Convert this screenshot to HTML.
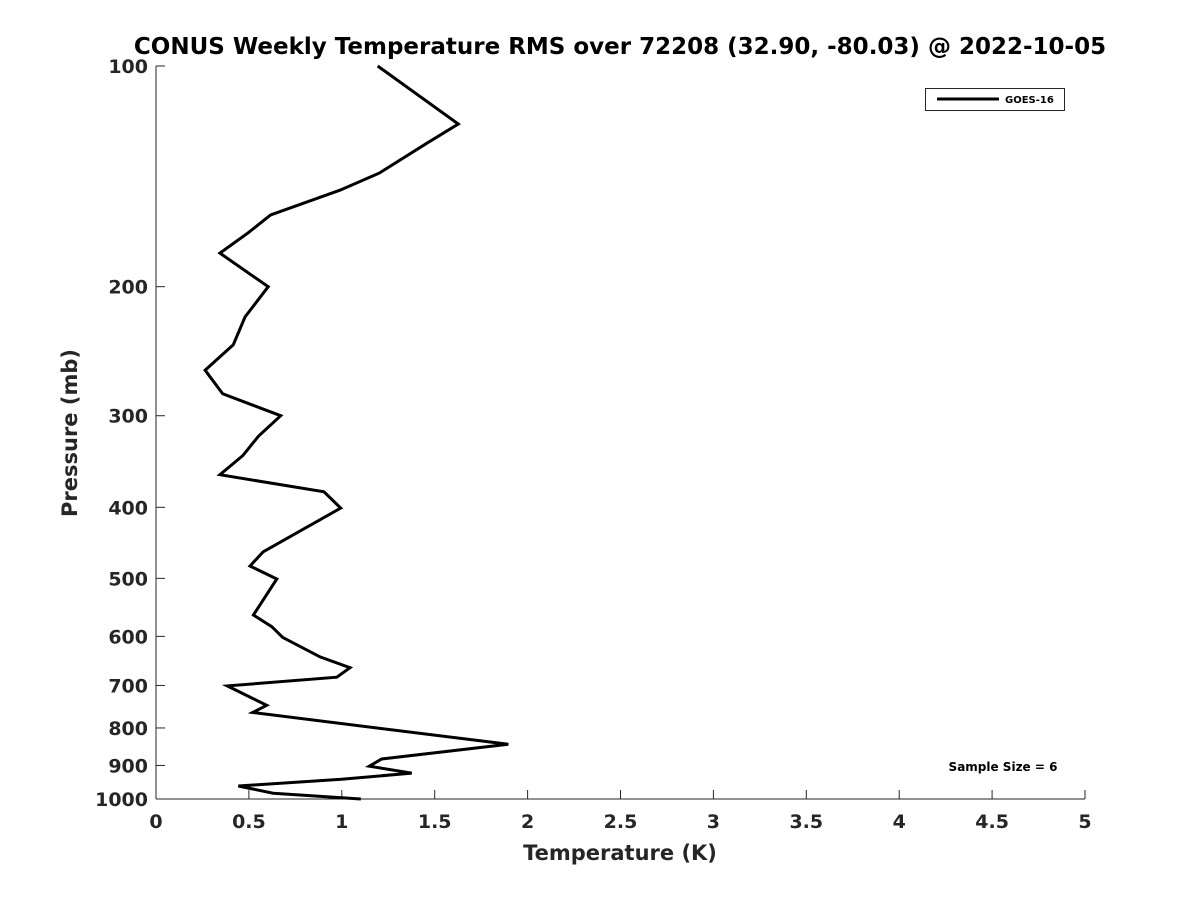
<!DOCTYPE html>
<html><head><meta charset="utf-8"><style>
body{margin:0;background:#fff}
text{font-family:"DejaVu Sans","Liberation Sans",sans-serif;font-weight:bold;fill:#262626}
</style></head><body>
<svg width="1200" height="900" viewBox="0 0 1200 900" id="chart">
<rect width="1200" height="900" fill="#fff"/>
<text x="620" y="54" text-anchor="middle" font-size="23" style="fill:#000">CONUS Weekly Temperature RMS over 72208 (32.90, -80.03) @ 2022-10-05</text>
<g id="axes"></g>
<text x="620" y="860" text-anchor="middle" font-size="21">Temperature (K)</text>
<text transform="translate(77,433) rotate(-90)" text-anchor="middle" font-size="21">Pressure (mb)</text>
<g>
<rect x="925.5" y="88.5" width="139" height="22" fill="#fff" stroke="#262626" stroke-width="1"/>
<line x1="937" y1="99" x2="999" y2="99" stroke="#000" stroke-width="3"/>
<text x="1005" y="103" font-size="10" style="fill:#000">GOES-16</text>
</g>
<text x="1003" y="771" text-anchor="middle" font-size="12" style="fill:#000">Sample Size = 6</text>
</svg>
<script>
const pressures=[100,120,127.5,140,147.7,159.7,168.8,180,200,220,240,260,280,300,320,340,361,381,401,460,481,501,561,582,602,640,662,682,701,745,762,842,882,902,922,940,960,982,1000];
const rmsValues=[1.193,1.627,1.457,1.202,0.99,0.617,0.497,0.344,0.604,0.479,0.416,0.264,0.359,0.671,0.551,0.467,0.344,0.904,0.994,0.577,0.506,0.65,0.524,0.623,0.682,0.883,1.044,0.973,0.384,0.596,0.52,1.896,1.215,1.148,1.376,0.999,0.443,0.631,1.102];
const xTicks=[0,0.5,1,1.5,2,2.5,3,3.5,4,4.5,5];
const xTickLabels=["0","0.5","1","1.5","2","2.5","3","3.5","4","4.5","5"];
const yTicks=[100,200,300,400,500,600,700,800,900,1000];
const yTickLabels=["100","200","300","400","500","600","700","800","900","1000"];
const X0=156,X1=1085,Y0=66,Y1=799;
const xs=v=>X0+(v-0)/(5-0)*(X1-X0);
const ys=p=>Y0+(Math.log10(p)-2)*(Y1-Y0);
const NS="http://www.w3.org/2000/svg";
const g=document.getElementById('axes');
function mk(t,a){const e=document.createElementNS(NS,t);for(const k in a)e.setAttribute(k,a[k]);g.appendChild(e);return e;}
let e=mk('line',{x1:X0,y1:Y0,x2:X0,y2:Y1,stroke:'#262626','stroke-width':1});


e=mk('line',{x1:X0,y1:Y1,x2:X1,y2:Y1,stroke:'#262626','stroke-width':1});


xTicks.forEach((v,i)=>{
 const x=xs(v);
 let t=mk('line',{x1:x,y1:Y1,x2:x,y2:Y1-9,stroke:'#262626'});
 
 
 let l=mk('text',{x:x,y:Y1+29,'text-anchor':'middle','font-size':19});
 l.textContent=xTickLabels[i];
 
 
});
yTicks.forEach((p,i)=>{
 const y=ys(p);
 let t=mk('line',{x1:X0,y1:y,x2:X0+9,y2:y,stroke:'#262626'});
 
 
 let l=mk('text',{x:X0-8,y:y+7,'text-anchor':'end','font-size':19});
 l.textContent=yTickLabels[i];
 
 
});
const pts=pressures.map((p,i)=>xs(rmsValues[i]).toFixed(1)+','+ys(p).toFixed(1)).join(' ');
const line=mk('polyline',{points:pts,fill:'none',stroke:'#000','stroke-width':3,'stroke-linejoin':'miter'});


</script>
</body></html>
